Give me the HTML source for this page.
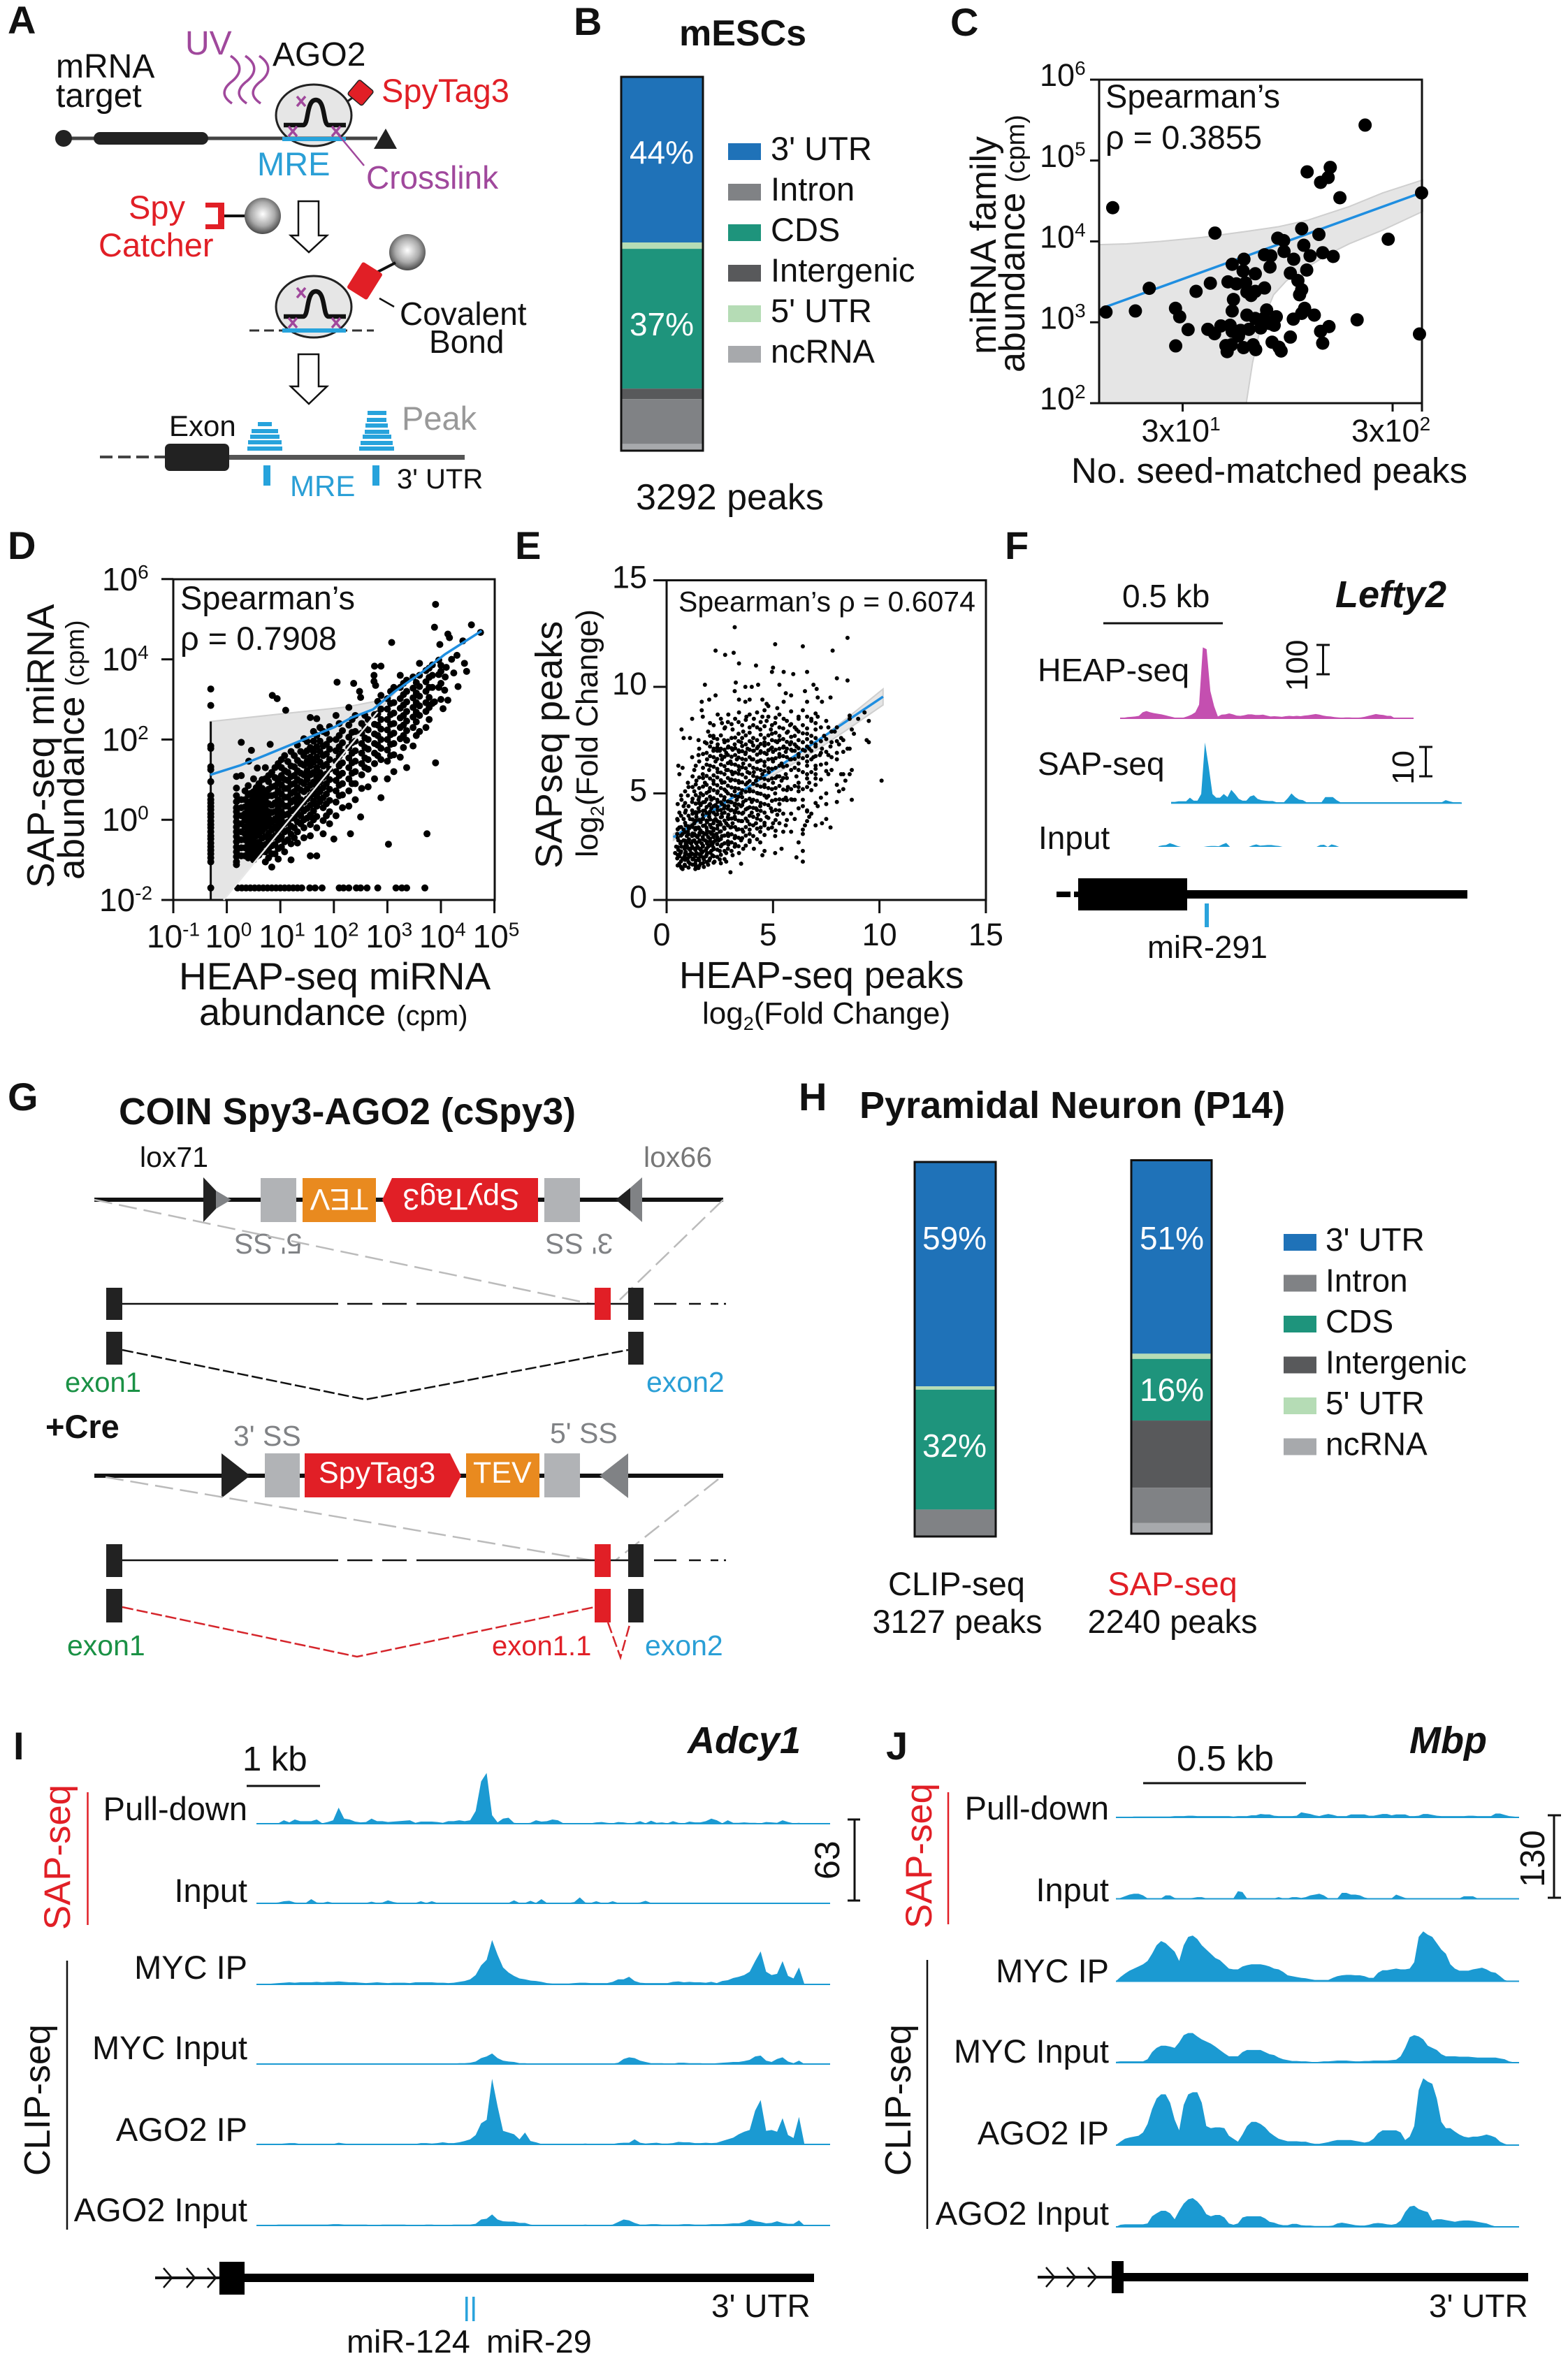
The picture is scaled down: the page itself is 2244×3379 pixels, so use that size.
<!DOCTYPE html>
<html lang="en">
<head>
<meta charset="utf-8">
<title>SAP-seq figure</title>
<style>
html,body{margin:0;padding:0;background:#fff}
svg{display:block}
text{font-family:"Liberation Sans",sans-serif;fill:#111}
.b{font-weight:700}
.pu{fill:#a0489c}.re{fill:#e11f26}.bl{fill:#2a9fd6}.gy{fill:#808285}.gn{fill:#1a9145}.wh{fill:#fff}
</style>
</head>
<body>
<svg id="fig" width="2244" height="3379" viewBox="0 0 2244 3379">
<defs>
<radialGradient id="sph" cx="50%" cy="45%" r="60%"><stop offset="0" stop-color="#fff"/><stop offset=".55" stop-color="#aaa"/><stop offset="1" stop-color="#333"/></radialGradient>
</defs>
<rect width="2244" height="3379" fill="#fff"/>

<!-- PANEL A -->
<g id="panelA">
<text class="b" x="11" y="48" font-size="56">A</text>
<text x="80" y="111" font-size="48">mRNA</text>
<text x="80" y="153" font-size="48">target</text>
<text class="pu" x="265" y="78" font-size="48">UV</text>
<text x="390" y="94" font-size="48">AGO2</text>
<g fill="none" stroke="#a0489c" stroke-width="3.5">
<path d="M330 80C348 92 346 106 330 118C316 130 320 140 332 148"/>
<path d="M351 80C369 92 367 106 351 118C337 130 341 140 353 148"/>
<path d="M371 80C389 92 387 106 371 118C357 130 361 140 373 148"/>
</g>
<ellipse cx="449" cy="165" rx="54" ry="44" fill="#e6e6e6" stroke="#222" stroke-width="3"/>
<line x1="85" y1="198" x2="540" y2="198" stroke="#444" stroke-width="5"/>
<ellipse cx="91" cy="198" rx="12" ry="12" fill="#222"/>
<rect x="134" y="189" width="164" height="18" rx="9" fill="#222"/>
<polygon points="535,213 568,213 552,184" fill="#222"/>
<rect x="404" y="196" width="91" height="6" fill="#27a3dc"/>
<path d="M406 179H434C442 179 438 143 452 143C466 143 462 179 470 179H495" fill="none" stroke="#111" stroke-width="6.5"/>
<path d="M425 138l12 14M437 138l-12 14M413 181l12 14M425 181l-12 14M475 181l12 14M487 181l-12 14" stroke="#a0489c" stroke-width="3.5"/>
<line x1="481" y1="189" x2="521" y2="237" stroke="#a0489c" stroke-width="2.5"/>
<line x1="496" y1="146" x2="507" y2="138" stroke="#222" stroke-width="3"/>
<rect x="503" y="119" width="27" height="27" rx="3" transform="rotate(40 516 132)" fill="#e11f26" stroke="#222" stroke-width="1.5"/>
<text class="re" x="546" y="146" font-size="47">SpyTag3</text>
<text class="bl" x="368" y="251" font-size="47">MRE</text>
<text class="pu" x="524" y="270" font-size="46">Crosslink</text>
<text class="re" x="184" y="313" font-size="47">Spy</text>
<text class="re" x="141" y="367" font-size="47">Catcher</text>
<path d="M294 290H321V328H294V321H312V297H294Z" fill="#e11f26"/>
<line x1="321" y1="309" x2="352" y2="309" stroke="#111" stroke-width="4"/>
<circle cx="376" cy="309" r="26" fill="url(#sph)"/>
<path d="M427 288H456V337H468L442 361L416 337H427Z" fill="#fff" stroke="#111" stroke-width="2.5"/>
<circle cx="583" cy="361" r="26" fill="url(#sph)"/>
<line x1="535" y1="392" x2="566" y2="376" stroke="#111" stroke-width="4"/>
<ellipse cx="449" cy="439" rx="54" ry="44" fill="#e6e6e6" stroke="#222" stroke-width="3"/>
<path d="M406 453H434C442 453 438 417 452 417C466 417 462 453 470 453H495" fill="none" stroke="#111" stroke-width="6.5"/>
<path d="M425 412l12 14M437 412l-12 14M413 455l12 14M425 455l-12 14M475 455l12 14M487 455l-12 14" stroke="#a0489c" stroke-width="3.5"/>
<line x1="357" y1="473" x2="535" y2="473" stroke="#333" stroke-width="3" stroke-dasharray="14 7"/>
<rect x="404" y="470" width="91" height="6" fill="#27a3dc"/>
<rect x="505" y="380" width="34" height="44" rx="3" transform="rotate(32 522 402)" fill="#e11f26"/>
<line x1="543" y1="427" x2="564" y2="439" stroke="#111" stroke-width="2.5"/>
<text x="572" y="465" font-size="46">Covalent</text>
<text x="614" y="505" font-size="46">Bond</text>
<path d="M427 507H456V553H468L442 578L416 553H427Z" fill="#fff" stroke="#111" stroke-width="2.5"/>
<text x="242" y="624" font-size="42">Exon</text>
<text style="fill:#999" x="575" y="615" font-size="47">Peak</text>
<g fill="#27a3dc">
<rect x="369" y="604" width="20" height="6"/><rect x="360" y="614" width="38" height="6"/><rect x="358" y="622" width="42" height="6"/><rect x="355" y="630" width="48" height="6"/><rect x="354" y="639" width="50" height="6"/>
</g>
<g fill="#27a3dc">
<rect x="526" y="588" width="27" height="6"/><rect x="525" y="598" width="28" height="6"/><rect x="523" y="606" width="32" height="6"/><rect x="522" y="615" width="35" height="6"/><rect x="519" y="622" width="41" height="6"/><rect x="516" y="631" width="46" height="6"/><rect x="514" y="639" width="50" height="6"/>
</g>
<line x1="143" y1="654" x2="236" y2="654" stroke="#444" stroke-width="4" stroke-dasharray="18 8"/>
<rect x="328" y="651" width="337" height="7" fill="#555"/>
<rect x="236" y="635" width="92" height="39" rx="7" fill="#222"/>
<rect x="377" y="666" width="10" height="29" fill="#27a3dc"/>
<rect x="533" y="666" width="10" height="29" fill="#27a3dc"/>
<text class="bl" x="415" y="710" font-size="42">MRE</text>
<text x="568" y="699" font-size="40">3' UTR</text>
</g>

<!-- PANEL B -->
<g id="panelB">
<text class="b" x="821" y="50" font-size="56">B</text>
<text class="b" x="972" y="65" font-size="52">mESCs</text>
<g id="barB"></g>
<text class="wh" x="947" y="234" font-size="46" text-anchor="middle">44%</text>
<text class="wh" x="947" y="480" font-size="46" text-anchor="middle">37%</text>
<g id="legB"></g>
<text x="910" y="729" font-size="52">3292 peaks</text>
</g>

<!-- PANEL C -->
<g id="panelC">
<text class="b" x="1360" y="51" font-size="56">C</text>
<g id="plotC"></g>
<text x="1582" y="154" font-size="47">Spearman’s</text>
<text x="1582" y="213" font-size="47">ρ = 0.3855</text>
<text x="1533" y="691" font-size="51">No. seed-matched peaks</text>
<text transform="translate(1425 507) rotate(-90)" font-size="52">miRNA family</text>
<text transform="translate(1466 533) rotate(-90)" font-size="52">abundance <tspan font-size="38">(cpm)</tspan></text>
</g>

<!-- PANEL D -->
<g id="panelD">
<text class="b" x="11" y="800" font-size="56">D</text>
<g id="plotD"></g>
<text x="258" y="872" font-size="47">Spearman’s</text>
<text x="258" y="930" font-size="47">ρ = 0.7908</text>
<text x="256" y="1416" font-size="55">HEAP-seq miRNA</text>
<text x="285" y="1467" font-size="54">abundance <tspan font-size="40">(cpm)</tspan></text>
<text transform="translate(77 1271) rotate(-90)" font-size="55">SAP-seq miRNA</text>
<text transform="translate(120 1259) rotate(-90)" font-size="53">abundance <tspan font-size="37">(cpm)</tspan></text>
</g>

<!-- PANEL E -->
<g id="panelE">
<text class="b" x="737" y="800" font-size="56">E</text>
<g id="plotE"></g>
<text x="971" y="875" font-size="41">Spearman’s ρ = 0.6074</text>
<text x="972" y="1414" font-size="53.5">HEAP-seq peaks</text>
<text x="1005" y="1465" font-size="44">log<tspan font-size="27" dy="9">2</tspan><tspan dy="-9">(Fold Change)</tspan></text>
<text transform="translate(804 1243) rotate(-90)" font-size="54">SAPseq peaks</text>
<text transform="translate(855 1227) rotate(-90)" font-size="44">log<tspan font-size="27" dy="9">2</tspan><tspan dy="-9">(Fold Change)</tspan></text>
</g>

<!-- PANEL F -->
<g id="panelF">
<text class="b" x="1438" y="800" font-size="56">F</text>
<text x="1606" y="869" font-size="46">0.5 kb</text>
<line x1="1579" y1="892" x2="1750" y2="892" stroke="#111" stroke-width="3"/>
<text class="b" font-style="italic" x="1911" y="869" font-size="54">Lefty2</text>
<text x="1485" y="975" font-size="46.5">HEAP-seq</text>
<text x="1485" y="1109" font-size="46">SAP-seq</text>
<text x="1486" y="1215" font-size="46">Input</text>
<g id="tracksF"></g>
<text transform="translate(1871 989) rotate(-90)" font-size="44">100</text>
<path d="M1884 923H1903M1893.5 923V965M1884 965H1903" fill="none" stroke="#111" stroke-width="3"/>
<text transform="translate(2023 1123) rotate(-90)" font-size="44">10</text>
<path d="M2031 1069H2050M2040.5 1069V1111M2031 1111H2050" fill="none" stroke="#111" stroke-width="3"/>
<rect x="1699" y="1274" width="401" height="12" fill="#000"/>
<rect x="1543" y="1257" width="156" height="46" fill="#000"/>
<rect x="1512" y="1276" width="20" height="8" fill="#000"/>
<rect x="1537" y="1276" width="6" height="8" fill="#000"/>
<rect x="1724" y="1293" width="6" height="34" fill="#2aa3dc"/>
<text x="1642" y="1371" font-size="45.5">miR-291</text>
</g>

<!-- PANEL G -->
<g id="panelG">
<text class="b" x="11" y="1589" font-size="56">G</text>
<text class="b" x="170" y="1609" font-size="53.5">COIN Spy3-AGO2 (cSpy3)</text>
<text x="200" y="1670" font-size="41">lox71</text>
<text style="fill:#777" x="921" y="1670" font-size="41">lox66</text>
<line x1="135" y1="1717" x2="1035" y2="1717" stroke="#111" stroke-width="6"/>
<polygon points="291,1685 309,1704 309,1730 291,1749" fill="#222"/>
<polygon points="309,1704 331,1717 309,1730" fill="#808285"/>
<polygon points="881,1717 902,1700 902,1734" fill="#222"/>
<polygon points="902,1700 919,1685 919,1749 902,1734" fill="#808285"/>
<rect x="373" y="1686" width="51" height="63" fill="#b1b3b6"/>
<rect x="433" y="1686" width="105" height="63" fill="#e98a1f"/>
<polygon points="547,1717 561,1686 770,1686 770,1749 561,1749" fill="#e11f26"/>
<rect x="779" y="1686" width="51" height="63" fill="#b1b3b6"/>
<text class="wh" transform="rotate(180 485.5 1717)" x="485.5" y="1732" font-size="43" text-anchor="middle">TEV</text>
<text class="wh" transform="rotate(180 660 1717)" x="660" y="1732" font-size="43" text-anchor="middle">SpyTag3</text>
<text class="gy" transform="rotate(180 384 1780)" x="384" y="1794" font-size="41" text-anchor="middle">5' SS</text>
<text class="gy" transform="rotate(180 829 1780)" x="829" y="1794" font-size="41" text-anchor="middle">3' SS</text>
<path d="M135 1717L846 1866M1035 1717L881 1866" fill="none" stroke="#bbb" stroke-width="2.5" stroke-dasharray="26 10"/>
<path d="M175 1866H484M497 1866H533M547 1866H582M596 1866H851M874 1866H921M936 1866H968M986 1866H1003M1017 1866H1028M1036 1866H1039" fill="none" stroke="#111" stroke-width="2.5"/>
<rect x="152" y="1843" width="23" height="46" fill="#222"/>
<rect x="851" y="1843" width="23" height="46" fill="#e11f26"/>
<rect x="899" y="1843" width="22" height="46" fill="#222"/>
<rect x="152" y="1906" width="23" height="47" fill="#222"/>
<rect x="899" y="1906" width="22" height="47" fill="#222"/>
<path d="M175 1932L523 2003L899 1932" fill="none" stroke="#111" stroke-width="2.5" stroke-dasharray="16 5"/>
<text class="gn" x="93" y="1992" font-size="40">exon1</text>
<text class="bl" x="925" y="1992" font-size="41">exon2</text>
<text class="b" x="65" y="2058" font-size="47">+Cre</text>
<text class="gy" x="334" y="2069" font-size="41">3' SS</text>
<text class="gy" x="787" y="2065" font-size="41">5' SS</text>
<line x1="135" y1="2112" x2="1035" y2="2112" stroke="#111" stroke-width="6"/>
<polygon points="317,2080 317,2144 358,2112" fill="#222"/>
<polygon points="899,2080 899,2144 858,2112" fill="#808285"/>
<rect x="379" y="2080" width="50" height="63" fill="#b1b3b6"/>
<polygon points="436,2080 644,2080 660,2112 644,2143 436,2143" fill="#e11f26"/>
<rect x="667" y="2080" width="105" height="63" fill="#e98a1f"/>
<rect x="779" y="2080" width="51" height="63" fill="#b1b3b6"/>
<text class="wh" x="456" y="2122" font-size="43">SpyTag3</text>
<text class="wh" x="677" y="2122" font-size="43">TEV</text>
<path d="M151 2114L846 2233M1028 2117L881 2233" fill="none" stroke="#bbb" stroke-width="2.5" stroke-dasharray="26 10"/>
<path d="M175 2233H484M497 2233H533M547 2233H582M596 2233H851M874 2233H921M936 2233H968M986 2233H1003M1017 2233H1028M1036 2233H1039" fill="none" stroke="#111" stroke-width="2.5"/>
<rect x="152" y="2210" width="23" height="47" fill="#222"/>
<rect x="851" y="2210" width="23" height="47" fill="#e11f26"/>
<rect x="899" y="2210" width="22" height="47" fill="#222"/>
<rect x="152" y="2274" width="23" height="48" fill="#222"/>
<rect x="851" y="2274" width="23" height="48" fill="#e11f26"/>
<rect x="899" y="2274" width="22" height="48" fill="#222"/>
<path d="M175 2300L511 2371L851 2300M870 2322L888 2372L902 2322" fill="none" stroke="#d5252b" stroke-width="2.5" stroke-dasharray="16 5"/>
<text class="gn" x="96" y="2369" font-size="41">exon1</text>
<text class="re" x="704" y="2369" font-size="40">exon1.1</text>
<text class="bl" x="923" y="2369" font-size="41">exon2</text>
</g>

<!-- PANEL H -->
<g id="panelH">
<text class="b" x="1143" y="1589" font-size="56">H</text>
<text class="b" x="1230" y="1600" font-size="54">Pyramidal Neuron (P14)</text>
<g id="barH1"></g>
<g id="barH2"></g>
<text class="wh" x="1366" y="1788" font-size="46" text-anchor="middle">59%</text>
<text class="wh" x="1366" y="2085" font-size="46" text-anchor="middle">32%</text>
<text class="wh" x="1677" y="1788" font-size="46" text-anchor="middle">51%</text>
<text class="wh" x="1677" y="2005" font-size="46" text-anchor="middle">16%</text>
<g id="legH"></g>
<text x="1369" y="2283" font-size="47" text-anchor="middle">CLIP-seq</text>
<text x="1370" y="2337" font-size="47" text-anchor="middle">3127 peaks</text>
<text class="re" x="1678" y="2283" font-size="47" text-anchor="middle">SAP-seq</text>
<text x="1678" y="2337" font-size="47" text-anchor="middle">2240 peaks</text>
</g>

<!-- PANEL I -->
<g id="panelI">
<text class="b" x="19" y="2518" font-size="56">I</text>
<text x="347" y="2534" font-size="49">1 kb</text>
<line x1="353" y1="2556" x2="458" y2="2556" stroke="#111" stroke-width="3"/>
<text class="b" font-style="italic" x="984" y="2509" font-size="54">Adcy1</text>
<text x="354" y="2605" font-size="47" text-anchor="end">Pull-down</text>
<text x="354" y="2722" font-size="47" text-anchor="end">Input</text>
<text x="354" y="2832" font-size="47" text-anchor="end">MYC IP</text>
<text x="354" y="2947" font-size="47" text-anchor="end">MYC Input</text>
<text x="354" y="3064" font-size="47" text-anchor="end">AGO2 IP</text>
<text x="354" y="3179" font-size="47" text-anchor="end">AGO2 Input</text>
<text class="re" transform="translate(100 2762) rotate(-90)" font-size="52.7">SAP-seq</text>
<line x1="125.5" y1="2565" x2="125.5" y2="2755" stroke="#e11f26" stroke-width="2.5"/>
<text transform="translate(71 3114) rotate(-90)" font-size="52">CLIP-seq</text>
<line x1="96" y1="2806" x2="96" y2="3191" stroke="#111" stroke-width="2.5"/>
<text transform="translate(1201 2690) rotate(-90)" font-size="50">63</text>
<path d="M1213 2604H1231M1223 2604V2720M1213 2720H1231" fill="none" stroke="#111" stroke-width="3"/>
<g id="tracksI"></g>
<line x1="222" y1="3260" x2="314" y2="3260" stroke="#111" stroke-width="4"/>
<path d="M234 3246L246 3260L234 3274M267 3246L279 3260L267 3274M297 3246L309 3260L297 3274" fill="none" stroke="#111" stroke-width="2.5"/>
<rect x="314" y="3237" width="36" height="47" fill="#000"/>
<rect x="350" y="3254" width="815" height="12" fill="#000"/>
<rect x="666" y="3287" width="3.5" height="35" fill="#2aa3dc"/>
<rect x="676" y="3287" width="3.5" height="35" fill="#2aa3dc"/>
<text x="1018" y="3316" font-size="46">3' UTR</text>
<text x="496" y="3367" font-size="46.8">miR-124</text>
<text x="696" y="3367" font-size="46.8">miR-29</text>
</g>

<!-- PANEL J -->
<g id="panelJ">
<text class="b" x="1268" y="2518" font-size="56">J</text>
<text x="1684" y="2534" font-size="51">0.5 kb</text>
<line x1="1636" y1="2552" x2="1869" y2="2552" stroke="#111" stroke-width="3"/>
<text class="b" font-style="italic" x="2017" y="2509" font-size="54">Mbp</text>
<text x="1587" y="2604" font-size="47" text-anchor="end">Pull-down</text>
<text x="1587" y="2721" font-size="47" text-anchor="end">Input</text>
<text x="1587" y="2837" font-size="47" text-anchor="end">MYC IP</text>
<text x="1587" y="2952" font-size="47" text-anchor="end">MYC Input</text>
<text x="1587" y="3069" font-size="47" text-anchor="end">AGO2 IP</text>
<text x="1587" y="3184" font-size="47" text-anchor="end">AGO2 Input</text>
<text class="re" transform="translate(1333 2760) rotate(-90)" font-size="52.7">SAP-seq</text>
<line x1="1357" y1="2565" x2="1357" y2="2754" stroke="#e11f26" stroke-width="2.5"/>
<text transform="translate(1303 3114) rotate(-90)" font-size="52">CLIP-seq</text>
<line x1="1327" y1="2805" x2="1327" y2="3190" stroke="#111" stroke-width="2.5"/>
<text transform="translate(2210 2701) rotate(-90)" font-size="49">130</text>
<path d="M2215 2598H2234M2224 2598V2716M2215 2716H2234" fill="none" stroke="#111" stroke-width="3"/>
<g id="tracksJ"></g>
<line x1="1485" y1="3259" x2="1591" y2="3259" stroke="#111" stroke-width="4"/>
<path d="M1497 3245L1509 3259L1497 3273M1527 3245L1539 3259L1527 3273M1557 3245L1569 3259L1557 3273" fill="none" stroke="#111" stroke-width="2.5"/>
<rect x="1591" y="3236" width="17" height="46" fill="#000"/>
<rect x="1608" y="3253" width="579" height="12" fill="#000"/>
<text x="2045" y="3316" font-size="46">3' UTR</text>
</g>
</svg>

<script>
/* ---------- stacked bar data ---------- */
const stackCategories=["3' UTR","5' UTR","CDS","Intergenic","Intron","ncRNA"];
const mescShares=[44.3,1.7,37.4,2.8,12,1.8];
const clipShares=[59.9,0.9,32,0,7.2,0];
const sapShares=[51.8,1.4,16.5,18,9.4,2.9];
const legendLabels=["3' UTR","Intron","CDS","Intergenic","5' UTR","ncRNA"];

/* ---------- panel C: log10(peaks), log10(cpm) ---------- */
const cXTicks=[1.477,2.477];
const cXTickLabels=["3x10","3x10"];
const cXTickExps=["1","2"];
const cYTicks=[2,3,4,5,6];
const cTrendX=[1.11,2.59];
const cTrendY=[3.19,4.58];
const cRibbonUpperX=[1.08,1.21,1.37,1.57,1.77,1.93,2.07,2.27,2.43,2.62];
const cRibbonUpperY=[3.96,3.97,4,4.05,4.12,4.18,4.26,4.43,4.6,4.76];
const cRibbonLowerX=[2.62,2.43,2.27,2.17,2.07,1.97,1.91,1.85,1.81,1.78,1.08];
const cRibbonLowerY=[4.37,4.14,3.97,3.84,3.68,3.51,3.34,2.96,2.5,2,2];
const cPoints=[[2.346,5.438],[2.07,4.86],[2.18,4.915],[2.17,4.79],[2.134,4.73],[2.226,4.54],[2.615,4.6],[1.144,4.417],[1.631,4.103],[2.044,4.157],[2.126,4.086],[1.93,4.04],[1.958,4.01],[2.456,4.027],[2.054,3.952],[1.96,3.876],[1.867,3.835],[1.897,3.822],[2.006,3.78],[2.084,3.822],[2.144,3.86],[2.194,3.814],[1.769,3.78],[1.713,3.717],[1.893,3.684],[1.765,3.634],[1.823,3.6],[1.99,3.608],[2.068,3.646],[1.609,3.483],[1.693,3.5],[1.733,3.475],[1.777,3.487],[2.026,3.516],[1.867,3.424],[1.318,3.42],[1.541,3.382],[1.783,3.374],[1.823,3.382],[1.803,3.332],[2.044,3.403],[2.034,3.34],[1.719,3.282],[1.112,3.127],[1.252,3.14],[1.443,3.173],[1.463,3.068],[1.713,3.14],[2.058,3.173],[2.104,3.089],[2.004,3.039],[2.044,3.11],[2.308,3.03],[1.783,3.089],[1.823,3.047],[1.877,3.152],[1.923,3.068],[1.863,3.047],[1.893,2.984],[1.913,2.963],[1.849,2.93],[1.503,2.909],[1.597,2.913],[1.659,2.955],[1.703,2.963],[1.629,2.859],[1.713,2.888],[1.753,2.9],[1.793,2.913],[2.174,2.947],[2.134,2.888],[2.605,2.855],[1.99,2.817],[1.743,2.83],[2.144,2.742],[1.444,2.708],[1.903,2.754],[1.683,2.712],[1.709,2.721],[1.767,2.687],[1.813,2.721],[1.825,2.662],[1.689,2.637],[1.936,2.691],[1.946,2.645]];

/* ---------- panel D: log10(HEAP cpm), log10(SAP cpm) ---------- */
const dXTicks=[-1,0,1,2,3,4,5];
const dYTicks=[-2,0,2,4,6];
const dTrendX=[-0.31,0.26,0.76,1.38,2.01,2.32,2.73,3.13,3.63,4.07,4.76];
const dTrendY=[1.12,1.36,1.63,1.97,2.31,2.54,2.75,3.19,3.66,4.12,4.71];
const dRibbonX=[-0.31,1.38,2.23,2.88,3.19,2.82,-0.06,-0.31];
const dRibbonY=[2.45,2.69,2.81,2.98,3.24,2.69,-2,-2];
const dPoints=[[-.3,3.26],[-.3,2.85],[-.3,1.84],[-.3,1.78],[-.3,1.32],[-.3,1.25],[-.3,.95],[-.3,.6],[-.3,.5],[-.3,.42],[-.3,.33],[-.3,.25],[-.3,.15],[-.3,.07],[-.3,-.03],[-.3,-.12],[-.3,-.2],[-.3,-.3],[-.3,-.4],[-.3,-.48],[-.3,-.58],[-.3,-.67],[-.3,-.76],[-.3,-.85],[-.3,-.95],[-.3,-1.05],[-.3,-1.7],
[.18,1.08],[.18,.79],[.18,.6],[.18,.45],[.18,.3],[.18,.2],[.18,.08],[.18,-.05],[.18,-.18],[.18,-.3],[.18,-.42],[.18,-.55],[.18,-.68],[.18,-.8],[.18,-.92],[.18,-1.05],[.18,-1.12],[.27,.5],[.27,.3],[.27,.1],[.27,-.1],[.27,-.3],[.27,-.5],[.27,-.7],[.27,-.9],[.27,1.1],[.27,1.93],[.46,1.73],[.41,1.46],[.57,1.29],[.81,1.88],[.85,3.1],[.94,3.02],[1.1,2.73],
[.2,-1.7],[.28,-1.7],[.36,-1.7],[.44,-1.7],[.52,-1.7],[.6,-1.7],[.68,-1.7],[.76,-1.7],[.84,-1.7],[.92,-1.7],[1,-1.7],[1.08,-1.7],[1.16,-1.7],[1.24,-1.7],[1.32,-1.7],[1.4,-1.7],[1.55,-1.7],[1.65,-1.7],[1.78,-1.7],[2.1,-1.7],[2.18,-1.7],[2.28,-1.7],[2.42,-1.7],[2.5,-1.7],[2.62,-1.7],[2.82,-1.7],[3.16,-1.7],[3.27,-1.7],[3.36,-1.7],[3.7,-1.7],
[.4,-.95],[.4,-.78],[.4,-.6],[.4,-.44],[.4,-.26],[.4,-.1],[.4,.08],[.4,.22],[.4,.4],[.4,.62],[.4,.85],[.5,-1],[.5,-.82],[.5,-.66],[.5,-.48],[.5,-.3],[.5,-.14],[.5,.02],[.5,.2],[.5,.36],[.5,.55],[.5,.7],[.5,1.02],[.6,-.88],[.6,-.72],[.6,-.56],[.6,-.36],[.6,-.18],[.6,0],[.6,.16],[.6,.3],[.6,.5],[.6,.66],[.6,.9],[.72,-1.05],[.72,-.8],[.72,-.62],[.72,-.42],[.72,-.2],[.72,-.05],[.72,.12],[.72,.3],[.72,.48],[.72,.7],[.72,1.02],[.72,1.3],[.84,-1.18],[.84,-.85],[.84,-.65],[.84,-.46],[.84,-.25],[.84,-.05],[.84,.18],[.84,.36],[.84,.6],[.84,.82],[.84,1.18],[.96,-.98],[.96,-.72],[.96,-.5],[.96,-.28],[.96,-.08],[.96,.1],[.96,.3],[.96,.5],[.96,.72],[.96,.94],[.96,1.4],[.96,1.02],
[1.08,-.8],[1.08,-.55],[1.08,-.3],[1.08,-.1],[1.08,.12],[1.08,.34],[1.08,.56],[1.08,.78],[1.08,1],[1.08,1.22],[1.08,1.6],[1.2,-1],[1.2,-.6],[1.2,-.36],[1.2,-.16],[1.2,.04],[1.2,.22],[1.2,.44],[1.2,.66],[1.2,.88],[1.2,1.08],[1.2,1.34],[1.2,1.7],[1.32,-.58],[1.32,-.3],[1.32,-.05],[1.32,.16],[1.32,.38],[1.32,.6],[1.32,.8],[1.32,1],[1.32,1.22],[1.32,1.48],[1.32,1.86],[1.44,-.45],[1.44,-.2],[1.44,0],[1.44,.22],[1.44,.44],[1.44,.7],[1.44,.9],[1.44,1.12],[1.44,1.36],[1.44,1.6],[1.44,2.02],[1.56,-.9],[1.56,-.4],[1.56,-.12],[1.56,.12],[1.56,.36],[1.56,.6],[1.56,.86],[1.56,1.12],[1.56,1.34],[1.56,1.56],[1.56,1.8],[1.56,2.55],[1.68,-.9],[1.68,-.2],[1.68,.08],[1.68,.34],[1.68,.58],[1.68,.82],[1.68,1.06],[1.68,1.3],[1.68,1.56],[1.68,1.82],[1.68,2.1],[1.68,2.52],
[1.8,-.35],[1.8,-.02],[1.8,.3],[1.8,.55],[1.8,.8],[1.8,1.06],[1.8,1.34],[1.8,1.6],[1.8,1.84],[1.8,2.2],[1.92,-.1],[1.92,.2],[1.92,.48],[1.92,.76],[1.92,1],[1.92,1.26],[1.92,1.5],[1.92,1.76],[1.92,2],[1.92,2.32],[2,-.48],[2.06,3.43],[2.04,.1],[2.04,.44],[2.04,.72],[2.04,.98],[2.04,1.2],[2.04,1.46],[2.04,1.72],[2.04,2],[2.04,2.6],[2.16,.3],[2.16,.62],[2.16,.9],[2.16,1.16],[2.16,1.42],[2.16,1.68],[2.16,1.92],[2.16,2.22],[2.31,-.35],[2.28,.34],[2.28,.72],[2.28,1.02],[2.28,1.3],[2.28,1.54],[2.28,1.8],[2.28,2.06],[2.28,2.36],[2.28,2.8],[2.37,3.4],[2.4,.5],[2.4,.9],[2.4,1.2],[2.4,1.46],[2.4,1.72],[2.4,1.96],[2.4,2.2],[2.4,2.6],[2.48,3.2],[2.5,3.05],[2.5,.07],[2.52,.78],[2.52,1.12],[2.52,1.4],[2.52,1.66],[2.52,1.9],[2.52,2.16],[2.52,2.4],[2.64,.82],[2.64,1.26],[2.64,1.5],[2.64,1.76],[2.64,2],[2.64,2.24],[2.64,2.5],[2.75,3.45],[2.75,3.6],[2.76,3.83],[2.78,3.35],[2.88,3.83],[2.76,1.02],[2.76,1.4],[2.76,1.66],[2.76,1.9],[2.76,2.14],[2.76,2.38],[2.76,2.62],[2.88,.55],[2.88,1.5],[2.88,1.78],[2.88,2],[2.88,2.26],[2.88,2.5],[2.88,2.76],[2.88,3.1],
[3,1.02],[3,1.46],[3,1.74],[3,2],[3,2.24],[3,2.5],[3,2.76],[3,3.02],[3.02,-.61],[3.08,4.42],[3.12,1.2],[3.12,1.62],[3.12,1.9],[3.12,2.16],[3.12,2.4],[3.12,2.66],[3.12,2.92],[3.12,3.3],[3.24,1.56],[3.24,2.02],[3.24,2.3],[3.24,2.54],[3.24,2.78],[3.24,3.02],[3.24,3.3],[3.24,3.6],[3.36,1.3],[3.36,1.98],[3.36,2.22],[3.36,2.46],[3.36,2.7],[3.36,2.94],[3.36,3.2],[3.36,3.48],[3.48,1.84],[3.48,2.3],[3.48,2.56],[3.48,2.8],[3.48,3.04],[3.48,3.28],[3.48,3.56],[3.6,2.2],[3.6,2.6],[3.6,2.84],[3.6,3.08],[3.6,3.32],[3.6,3.6],[3.6,3.9],[3.72,2.3],[3.72,2.7],[3.72,2.92],[3.72,3.2],[3.72,3.44],[3.72,3.72],[3.74,-.35],[3.9,1.42],[3.84,2.9],[3.84,3.3],[3.84,3.6],[3.84,3.86],[3.88,2.94],[3.88,4.8],[3.9,5.37],[3.98,4.37],[3.96,3.3],[3.96,3.62],[3.96,3.98],[4.04,2.77],[4.07,3.23],[4.08,3.56],[4.1,3.8],[4.13,2.98],[4.13,4.63],[4.16,4.54],[4.2,4],[4.24,3.66],[4.3,4.1],[4.32,3.32],[4.41,4.46],[4.44,3.9],[4.48,3.7],[4.57,4.86],[4.74,4.67]];
const dDenseColumns=[[.34,[-.9,-.7,-.5,-.35,-.18,0,.15,.32,.5,.72]],[.45,[-.88,-.7,-.52,-.36,-.2,-.05,.12,.3,.46,.66]],[.55,[-.92,-.75,-.58,-.4,-.22,-.06,.1,.26,.44,.62,.8]],[.66,[-.8,-.64,-.46,-.28,-.1,.06,.22,.4,.58,.78,1]],[.78,[-.95,-.72,-.54,-.34,-.14,.04,.2,.4,.6,.76,.95,1.1]],[.9,[-.85,-.62,-.4,-.18,.02,.2,.42,.62,.84,1.05,1.3]],[1.02,[-.68,-.42,-.2,0,.2,.42,.64,.86,1.1,1.3,1.5]],[1.14,[-.5,-.26,-.06,.14,.34,.56,.78,.98,1.18,1.45]],[1.26,[-.45,-.2,.04,.26,.5,.7,.9,1.1,1.32,1.6]],[1.38,[-.1,.1,.3,.5,.74,.95,1.16,1.4,1.7]],[1.5,[.04,.28,.52,.76,1,1.22,1.46,1.72,1.95]],[1.62,[0,.22,.46,.7,.94,1.18,1.44,1.7,1.96,2.2]],[1.74,[.45,.7,.94,1.18,1.44,1.7,1.96,2.3]],[1.86,[.1,.4,.64,.9,1.14,1.38,1.64,1.88,2.16]],[2.1,[.6,.86,1.1,1.34,1.58,1.82,2.1,2.4]],[2.34,[.9,1.16,1.42,1.66,1.92,2.18,2.5]],[2.58,[1.3,1.54,1.8,2.04,2.3,2.6]],[2.82,[1.6,1.86,2.1,2.36,2.64,2.95]],[3.06,[1.6,1.88,2.12,2.38,2.62,2.9,3.2]],[3.3,[1.8,2.1,2.36,2.6,2.86,3.12,3.4]],[3.54,[2.1,2.44,2.68,2.92,3.16,3.42]],[3.78,[2.5,2.8,3.05,3.3,3.55,3.78]],[4,[3,3.4,3.7,3.85]]];

/* ---------- panel E: log2 fold change ---------- */
const eXTicks=[0,5,10,15];
const eYTicks=[0,5,10,15];
const eTrendX=[0.32,10.17];
const eTrendY=[2.94,9.54];
const eRibbonX=[0.32,5,7,8.5,10.17,10.17,8.5,7,5,0.32];
const eRibbonY=[3.1,6.05,7.4,8.55,9.9,9.15,8,7,5.85,2.8];
const ePoints=[[3.2,12.8],[8.5,12.3],[5.1,12],[6.4,11.9],[2.3,11.7],[2.75,11.5],[3.15,11.6],[7.8,11.7],[3.4,11.1],[4.2,11],[5,10.9],[4.95,10.7],[5.5,10.7],[5.95,10.6],[6.6,10.7],[8,10.4],[8.5,10.3],[3.25,10.2],[5.3,10.1],[1.8,10.1],[3.7,10],[4,10],[4.3,10.1],[6.9,10.1],[7.05,9.9],[3.2,9.8],[5.6,9.7],[6.5,9.8],[5.85,9.6],[2.3,9.6],[1.65,9.3],[2,9.4],[7.7,9.5],[6.6,9.3],[7.1,9.5],[7.3,9.3],[3.4,9.4],[3.7,9.3],[3.9,9.4],[4.5,9.4],[4.7,9.2],[5.2,9],[5.5,9.3],[1.65,8.9],[1.7,8.6],[1.2,8.5],[2.4,8.7],[2.6,8.3],[2.9,8.7],[2.75,8.1],[3.4,8.8],[3.75,8.6],[4.1,8.5],[4.5,8.6],[4.7,8.4],[5.1,8.3],[5.5,8.5],[5.8,8.2],[6.2,8.6],[6.4,8.9],[6.8,8.5],[7.1,8.6],[7.6,8.1],[8.6,8.5],[9,8.5],[9.5,8.4],[8.7,8],[9.3,8.8],[.7,8],[1.95,7.9],[2.2,7.7],[3.1,8],[3.6,7.9],[3.9,8.1],[4.4,8],[4.9,8],[5.3,7.7],[5.7,7.9],[6.1,8],[6.6,7.8],[7,8],[7.4,7.7],[7.9,7.9],[8.2,7.6],[8.8,7.8],[9.4,7.5],[9.5,7.4],
[.8,7.6],[1.1,7.6],[1.5,7.5],[1.8,7.4],[2.1,7.4],[2.4,7.3],[2.7,7.5],[2.9,7.2],[3.2,7.3],[3.5,7.4],[3.8,7.1],[4,7.4],[4.3,7.2],[4.6,7.4],[4.9,7.1],[5.2,7.4],[5.5,7.2],[5.8,7.3],[6.1,7.2],[6.4,7.4],[6.7,7.1],[7,7.3],[7.3,7.1],[7.7,7.2],[8.1,7.3],[8.5,7.1],[2.2,7],[2.5,7],[2.8,6.9],[3.1,7.05],[3.4,6.95],[3.7,6.85],[4.1,7],[4.4,6.9],[4.7,6.85],[5,6.95],[5.3,6.85],[5.6,6.95],[5.9,7],[6.2,6.85],[6.5,7],[6.9,6.7],[7.2,6.8],[7.6,6.8],[8,6.6],[1.2,6.7],[1.5,6.8],[1.9,6.6],[2.3,6.5],[2.6,6.6],[3,6.5],[3.3,6.6],[3.6,6.4],[4,6.6],[4.3,6.5],[4.6,6.3],[5,6.5],[5.4,6.4],[5.8,6.6],[6.2,6.4],[6.6,6.5],[7,6.3],[7.5,6.4],[.55,6.3],[.6,5.9],[.75,6.2],[8.7,6.1],[1.3,6.1],[1.7,5.9],[2,6.1],[2.4,6],[2.8,6.1],[3.1,5.9],[3.4,6.1],[3.8,6],[4.1,6],[4.5,5.9],[4.8,6],[5.2,5.8],[5.6,5.9],[6.1,5.8],[6.6,5.7],[7,5.9],[7.6,5.9],[8.2,5.9],[8.4,5.6],[10.1,5.6],[1,5.5],[1.4,5.6],[1.8,5.5],[2.2,5.6],[2.6,5.5],[3,5.6],[3.4,5.5],[3.8,5.5],[4.2,5.6],[4.6,5.4],[5,5.5],[5.4,5.6],[5.7,5.3],[6.2,5.3],[6.7,5.5],[7,5.4],[8.1,5.1],[8.3,5.2],
[1,4.9],[.7,4.7],[.8,4.4],[1.3,5.1],[1.6,5],[2,5.1],[2.4,5.1],[2.8,5.1],[3.2,5.1],[3.5,5],[3.9,5.1],[4.3,5],[4.7,4.8],[5.1,5],[5.6,4.8],[5.9,4.7],[6.4,4.7],[7.5,4.5],[8.7,4.7],[1.2,4.6],[1.5,4.7],[1.8,4.6],[2.1,4.7],[2.4,4.6],[2.7,4.7],[3,4.6],[3.3,4.7],[3.6,4.6],[4,4.6],[4.4,4.4],[4.9,4.3],[5.3,4.5],[6.6,4.2],[7.1,4.4],[.6,4.1],[.9,4.2],[1.2,4.2],[1.5,4.3],[1.8,4.2],[2.1,4.3],[2.4,4.2],[2.7,4.3],[3,4.2],[3.3,4.3],[3.6,4.1],[4,4.1],[4.3,4],[4.7,3.9],[5.2,4],[6.7,3.9],[.5,3.8],[.8,3.8],[1.1,3.8],[1.4,3.9],[1.7,3.8],[2,3.9],[2.3,3.8],[2.6,3.9],[2.9,3.8],[3.2,3.9],[3.5,3.7],[3.8,3.7],[4.2,3.6],[4.6,3.5],[5,3.6],[5.6,3.5],[6.5,3.5],[7.3,3.6],[7.7,3.4],[.6,3.4],[.9,3.5],[1.2,3.5],[1.5,3.4],[1.8,3.5],[2.1,3.4],[2.4,3.5],[2.7,3.4],[3,3.4],[3.3,3.3],[3.6,3.2],[3.9,3.3],[4.4,3.2],[5.1,3],[6.4,3.1],[.5,3.1],[.75,3.1],[1,3.2],[1.3,3.1],[1.55,3.15],[1.8,3.1],[2.1,3.1],[2.35,3.1],[2.6,3],[2.9,3],[3.2,2.9],[3.5,2.8],[3.9,2.8],[4.4,2.7],[.55,2.8],[.8,2.8],[1.05,2.85],[1.3,2.8],[1.55,2.8],[1.8,2.8],[2.05,2.75],[2.3,2.8],[2.6,2.6],[2.9,2.6],[3.2,2.5],[3.6,2.4],[4.1,2.4],[4.6,2.3],[5.4,2.4],[6.4,2.3],[.45,2.5],[.7,2.5],[.95,2.55],[1.2,2.5],[1.45,2.5],[1.7,2.5],[1.95,2.5],[2.2,2.45],[2.5,2.3],[2.8,2.2],[3.1,2.1],[3.4,2.2],[4.5,2.1],[5.1,2.2],[6.1,2],[6.4,1.8],[.4,2.2],[.65,2.2],[.9,2.25],[1.15,2.2],[1.4,2.2],[1.65,2.2],[1.9,2.2],[2.15,2.1],[2.5,1.9],[2.8,1.8],[3.5,1.7],[.5,1.95],[.75,1.95],[1,1.95],[1.25,1.95],[1.5,1.95],[1.75,1.9],[2,1.85],[2.25,1.8],[.6,1.7],[.85,1.65],[1.1,1.7],[1.35,1.7],[1.6,1.7],[1.95,1.65],[.7,1.5],[.75,1.45],[1.35,1.45],[1.5,1.5],[1.75,1.55],[3,1.3],
[.55,2.35],[.85,2.4],[1.1,2.35],[1.35,2.35],[1.6,2.35],[1.85,2.35],[2.1,2.3],[.6,2.05],[.85,2.05],[1.1,2.05],[1.35,2.05],[1.6,2.05],[1.85,2.05],[.65,2.65],[.9,2.65],[1.15,2.65],[1.4,2.65],[1.65,2.65],[1.9,2.65],[2.15,2.6],[.95,3],[1.2,3],[1.45,2.95],[1.7,2.95],[1.95,2.95],[2.2,2.95],[2.45,2.8],[.8,3.3],[1.05,3.35],[1.35,3.3],[1.6,3.25],[1.9,3.25],[2.2,3.25],[2.5,3.2],[1.3,3.6],[1.6,3.65],[1.9,3.65],[2.2,3.6],[2.5,3.65],[2.8,3.6],[3.1,3.6],[1.4,4.05],[1.7,4],[2,4.05],[2.3,4],[2.6,4.05],[2.9,4],[3.2,4.1],[3.5,4.4],[1.6,4.45],[2,4.45],[2.3,4.45],[2.6,4.5],[2.9,4.4],[3.2,4.45],[3.8,4.3],[4.2,4.3]];
const eDenseColumns=[[.52,[1.62,2.12,2.48,2.92,3.32,3.74,4.5]],[.68,[1.55,1.82,2.28,2.72,3.02,3.42,3.95,4.9]],[.87,[1.6,1.88,2.18,2.52,2.78,3.18,3.62,4.1,4.55,5.1]],[1.03,[1.52,1.78,2.12,2.42,2.72,3.08,3.45,3.95,4.4,5.3]],[1.22,[1.66,1.9,2.16,2.44,2.76,3.12,3.42,3.78,4.05,4.75,5.3,5.8]],[1.37,[1.58,1.84,2.12,2.42,2.7,3.02,3.38,3.72,4.12,4.52,4.92,5.42,6.3]],[1.53,[1.6,1.86,2.15,2.42,2.74,3.06,3.35,3.76,4.15,4.55,4.82,5.25,5.75,6.5,7.1]],[1.71,[1.72,2,2.28,2.55,2.85,3.15,3.48,3.82,4.18,4.58,4.92,5.32,5.72,6.2,6.85]],[1.88,[1.78,2.12,2.42,2.75,3.08,3.38,3.72,4.08,4.36,4.72,5.02,5.4,5.82,6.35,6.9,7.35]],[2.04,[1.95,2.22,2.56,2.88,3.18,3.52,3.78,4.15,4.5,4.85,5.25,5.7,6.3,6.75,7.2,7.7,8.3]],[2.21,[1.75,2.05,2.38,2.72,3.05,3.35,3.72,4.1,4.4,4.78,5.15,5.45,5.85,6.25,6.7,7.1,7.6,8.2]],[2.38,[2.02,2.36,2.62,2.95,3.35,3.7,4.02,4.36,4.7,5.02,5.38,5.75,6.15,6.62,7,7.15,7.55]],[2.55,[1.72,2.12,2.52,2.86,3.22,3.54,3.88,4.22,4.58,4.9,5.25,5.62,5.98,6.35,6.78,7.1,7.72,8.5]],[2.72,[1.92,2.3,2.66,3.02,3.34,3.72,4.1,4.42,4.82,5.18,5.52,5.9,6.28,6.72,7.05,7.4,8.05]],[2.88,[2.4,2.75,3.12,3.5,3.88,4.28,4.62,5,5.36,5.72,6.1,6.42,6.8,7.15,7.48,8.35]],[3.05,[2.3,2.7,3.08,3.42,3.82,4.22,4.58,4.92,5.28,5.65,6.02,6.38,6.72,7.12,7.6,8.25]],[3.22,[2.62,3,3.42,3.8,4.18,4.52,4.88,5.25,5.62,5.98,6.35,6.8,7.12,7.62,8.5]],[3.38,[2.52,2.92,3.32,3.72,4.1,4.48,4.85,5.22,5.58,5.92,6.28,6.68,7.02,7.45,7.8,8.35]],[3.55,[2.9,3.3,3.7,4.05,4.45,4.82,5.15,5.52,5.88,6.22,6.62,6.98,7.22,7.6,8.2]],[3.72,[2.55,3.02,3.42,3.82,4.25,4.68,5.08,5.42,5.75,6.18,6.58,6.92,7.3,7.72,8.45]],[3.9,[2.72,3.1,3.55,3.95,4.35,4.75,5.2,5.58,5.95,6.32,6.7,7.05,7.45,7.85,8.7]],[4.07,[3,3.5,3.9,4.32,4.7,5.1,5.45,5.82,6.2,6.6,7,7.25,7.6,8.2]],[4.25,[2.85,3.35,3.82,4.22,4.65,5.02,5.38,5.75,6.15,6.48,6.82,7.12,7.5,8.1,8.8]],[4.42,[3.4,3.75,4.18,4.55,4.98,5.32,5.72,6.1,6.55,6.98,7.32,7.75,8.35]],[4.6,[3.05,3.62,4.1,4.5,4.9,5.3,5.68,6.05,6.48,6.9,7.25,7.6,8.15,8.9]],[4.78,[3.35,3.85,4.45,4.88,5.25,5.62,6.18,6.6,7.02,7.32,7.72,8.6,9.1]],[4.95,[3.4,4.15,4.65,5.2,5.7,6.15,6.62,7.15,7.5,7.8,8.2]],[5.12,[3.25,3.75,4.22,4.7,5.25,5.72,6.2,6.65,7.05,7.45,7.85,8.55]],[5.3,[3.6,4.2,4.72,5.35,5.8,6.3,6.72,7.1,7.5,8.1,8.7]],[5.48,[3.2,4.05,4.7,5.18,5.72,6.25,6.75,7.15,7.55,8.05]],[5.65,[3.75,4.68,5.15,5.72,6.3,6.7,7.1,7.42,7.85,8.4]],[5.85,[3.2,4.05,4.72,5.2,6.1,6.6,7.05,7.4,7.65,8.25,8.85]],[6.02,[3.8,4.7,5.35,6.2,6.62,7,7.3,7.7,8.1]],[6.2,[2.7,4.3,5.1,5.5,6.1,6.72,7.12,7.5,7.9,8.5]],[6.4,[3.3,4.4,5.2,6,6.65,7.05,7.4,7.82,8.2]],[6.6,[3.7,4.15,5.3,5.9,6.3,6.75,7.2,7.55,8.05,8.6]],[6.8,[4.05,5.15,6,6.6,7,7.4,7.7,8.4]],[7,[3.5,4.55,5.7,6.15,6.75,7.2,7.6,8.3,8.75]],[7.25,[4.8,5.65,6.35,6.9,7.45,8.1]],[7.5,[3.8,5,6.05,6.95,7.55,8.4]],[7.75,[6.1,6.7,7.4,7.9]],[8,[4.6,5.4,6.9,7.45,8.1]],[8.3,[5.9,6.95,7.5]],[8.6,[5.9,7.1,8.65]]];

/* ---------- panel F coverage (even genomic bins) ---------- */
const heapCov=[0,2,4,5,6,8,20,24,20,17,15,13,10,7,4,1,0,3,7,12,20,45,234,228,90,40,6,12,13,16,13,9,8,10,13,13,11,11,12,9,6,7,6,5,7,8,7,8,7,9,10,12,14,12,9,7,6,4,3,2,3,3,2,2,3,5,8,11,14,12,11,8,8,1,0,0,0,0,0];
const sapCov=[4,4,6,6,6,18,8,8,30,200,120,30,18,18,30,20,44,30,14,8,8,22,26,14,10,8,7,7,3,3,3,16,32,20,12,10,3,3,3,3,3,20,20,20,10,3,3,3,3,3,3,3,3,3,3,3,3,3,3,3,3,3,3,3,3,3,3,3,3,3,3,3,3,10,6,3,3,3];
const inputCov=[2,5,6,12,8,3,0,0,0,0,0,0,0,2,3,3,2,8,13,0,0,0,0,0,0,5,8,4,5,6,6,4,3,0,0,0,0,0,0,0,0,0,0,6,7,0,8,5,0];

/* ---------- panel I coverage (even genomic bins) ---------- */
const adcyPullDown=[0,0,0,0,1,8,3,10,6,6,6,10,1,4,8,38,12,10,5,3,4,12,6,6,4,5,6,7,8,2,5,5,5,4,2,6,6,8,6,8,30,100,120,20,3,12,14,2,1,1,2,8,5,6,10,8,1,0,0,1,1,1,3,4,2,1,4,3,1,2,6,1,7,2,3,1,6,2,1,5,3,3,6,12,8,1,8,2,2,3,2,2,1,4,3,2,8,4,1,2,0,0,0,0,0];
const adcyInput=[0,0,0,1,2,5,6,2,1,1,10,2,1,4,1,1,1,1,1,1,1,4,1,2,7,3,1,1,1,1,5,1,5,1,1,1,1,1,1,1,1,1,1,1,1,1,1,7,1,1,6,1,10,1,1,1,1,1,3,14,2,1,5,1,1,5,1,1,1,1,2,6,1,1,1,1,1,1,1,1,1,1,1,1,1,1,1,1,1,1,1,1,1,1,1,1,1,1,1,1,0,0,0,0,0];
const adcyMycIp=[1,1,1,2,3,4,5,4,5,5,5,6,5,6,6,7,6,5,5,4,3,4,5,4,3,4,4,4,3,5,5,5,5,4,4,3,4,6,8,12,22,45,58,105,70,40,28,20,14,12,9,8,6,3,2,2,2,2,3,4,4,3,3,3,3,6,12,12,18,8,4,3,3,3,3,3,6,7,5,6,5,5,4,6,3,8,10,15,18,22,30,55,78,30,22,25,55,20,14,40,0,0,0,0,0];
const adcyMycInput=[0,0,0,1,1,1,1,1,1,1,1,1,1,1,1,1,1,1,1,1,1,1,1,1,1,1,1,1,1,1,1,1,1,1,1,1,1,2,2,3,6,14,18,25,14,8,6,5,2,2,1,1,1,1,1,1,1,1,1,1,1,1,1,1,1,1,3,12,16,14,8,5,2,2,2,1,1,3,3,2,2,2,1,1,2,3,4,5,5,7,10,18,20,8,5,12,16,6,2,8,0,0,0,0,0];
const adcyAgoIp=[0,0,0,1,1,2,3,3,1,1,1,1,1,1,1,4,2,1,1,1,1,1,1,1,1,1,1,1,1,1,3,3,2,3,5,3,3,5,8,12,22,50,58,155,90,32,28,24,12,28,8,5,1,1,1,1,1,1,1,1,2,1,1,1,1,1,3,4,4,12,4,2,3,4,2,2,3,6,5,5,3,3,4,3,4,8,12,16,24,30,34,80,105,32,34,30,62,22,15,65,0,0,0,0,0];
const adcyAgoInput=[0,0,0,1,2,2,2,2,2,2,2,2,2,2,3,3,2,2,2,2,2,1,1,2,2,2,2,2,1,1,1,2,2,1,1,1,2,2,2,2,4,14,16,26,14,10,9,9,6,6,2,1,1,1,1,1,1,1,1,1,2,1,1,1,1,2,8,14,12,6,2,2,3,3,2,2,2,2,3,3,2,2,2,3,3,3,4,5,5,8,14,10,8,5,6,10,6,4,4,12,0,0,0,0,0];

/* ---------- panel J coverage (even genomic bins) ---------- */
const mbpPullDown=[1,1,1,1,2,2,2,2,2,2,2,2,2,3,3,3,4,4,3,3,3,3,3,3,3,3,2,3,3,3,5,5,8,7,7,4,3,3,3,3,4,12,10,8,5,3,6,8,6,3,3,3,7,7,7,7,4,4,6,8,8,5,7,7,7,3,3,4,8,8,6,4,3,3,3,3,3,3,4,4,3,3,3,3,9,9,6,3,2,1];
const mbpInput=[0,2,6,10,12,12,8,1,1,1,1,8,8,2,1,1,1,2,4,4,1,1,1,1,1,1,1,18,16,1,1,1,1,1,1,1,4,1,1,4,4,2,4,8,10,12,8,1,1,1,14,14,10,10,8,3,1,1,1,1,1,1,10,6,2,1,1,1,1,1,1,1,1,1,1,1,1,6,6,6,1,1,1,1,1,1,1,1,1,1];
const mbpMycIp=[0,10,18,25,30,35,40,48,65,85,95,90,80,70,48,85,105,108,100,85,75,65,55,50,40,30,28,28,35,38,40,40,40,38,35,30,28,22,14,12,10,8,7,5,3,3,3,3,8,12,14,15,15,14,14,12,8,8,20,26,26,28,30,28,28,30,45,105,118,110,105,90,75,65,40,30,25,25,25,28,30,32,28,22,20,12,3,0,0,0];
const mbpMycInput=[2,3,3,3,3,3,3,8,25,35,40,40,38,35,48,65,70,70,62,55,50,45,38,30,22,15,15,15,25,30,30,30,30,25,20,18,12,8,6,4,4,3,3,2,1,2,3,3,4,5,5,5,4,3,3,4,4,5,5,5,5,6,7,15,35,60,65,62,55,40,35,30,20,15,15,15,14,14,14,13,12,12,12,12,12,10,8,3,1,0];
const mbpAgoIp=[0,8,15,18,20,22,30,50,85,110,120,120,100,60,35,95,120,125,125,100,45,40,42,42,40,22,15,8,25,45,55,55,50,42,30,22,15,12,9,9,9,8,8,5,3,3,5,7,10,12,12,12,12,10,8,6,8,15,28,35,35,35,35,30,12,20,45,130,158,150,145,110,55,40,40,32,25,20,18,20,20,22,25,22,18,8,3,0,0,0];
const mbpAgoInput=[0,5,6,6,6,6,6,8,25,32,38,38,32,18,38,55,65,68,60,48,30,25,28,28,22,8,5,8,22,25,25,25,25,20,12,10,6,4,4,7,7,4,3,3,2,2,2,2,3,8,10,8,6,4,3,3,5,8,9,8,6,5,7,15,35,48,50,42,38,35,15,18,18,16,14,12,14,15,15,14,12,10,8,4,1,0,0,0,0,0];

/* ---------- helpers ---------- */
const fig=document.getElementById('fig');
const NS=fig.namespaceURI;
const categoryColors={"3' UTR":'#1f72b8',"5' UTR":'#b5dcb5',"CDS":'#1e947c',"Intergenic":'#58595b',"Intron":'#808285',"ncRNA":'#a7a9ac'};
function mk(tag,parent,attrs,txt){
  const e=document.createElementNS(NS,tag);
  for(const k in attrs)e.setAttribute(k,attrs[k]);
  if(txt!=null)e.textContent=txt;
  parent.appendChild(e);
  return e;
}
function $(id){return document.getElementById(id);}

function drawStack(parent,x,w,top,h,shares,prefix){
  let y=top;
  shares.forEach(function(s,i){
    const sh=s/100*h;
    const r=mk('rect',parent,{x:x,y:y,width:w,height:sh,fill:categoryColors[stackCategories[i]]});
    
    
    y+=sh;
  });
  const box=mk('rect',parent,{x:x,y:top,width:w,height:h,fill:'none',stroke:'#111','stroke-width':3});
  
  
}
function drawLegend(parent,sx,sw,firstY,sh,step,tx,fs){
  legendLabels.forEach(function(l,i){
    const r=mk('rect',parent,{x:sx,y:firstY+i*step,width:sw,height:sh,fill:categoryColors[l]});
    
    
    const t=mk('text',parent,{x:tx,y:firstY+sh+i*step,'font-size':fs},l);
    
    
  });
}
function powLabel(parent,x,y,base,exp,fs,efs){
  const t=mk('text',parent,{x:x,y:y,'font-size':fs},base);
  
  
  const s=mk('tspan',t,{dy:-fs*0.36,'font-size':efs},exp);
  
  
  return t;
}
function tick(parent,x1,y1,x2,y2){
  const l=mk('line',parent,{x1:x1,y1:y1,x2:x2,y2:y2,stroke:'#111','stroke-width':3});
  
  
}
function frame(parent,x,y,w,h){
  const r=mk('rect',parent,{x:x,y:y,width:w,height:h,fill:'none',stroke:'#111','stroke-width':3});
  
  
}
function ribbon(parent,pts,name){
  const p=mk('polygon',parent,{points:pts.join(' '),fill:'#e5e5e5',stroke:'#cfcfcf','stroke-width':2});
  
  
}
function trend(parent,xs,ys,fx,fy){
  const p=mk('polyline',parent,{points:xs.map(function(v,i){return fx(v)+','+fy(ys[i]);}).join(' '),fill:'none',stroke:'#1f8ee0','stroke-width':3.5});
  
  
}
function dots(parent,pts,fx,fy,r){
  pts.forEach(function(q){
    const c=mk('circle',parent,{cx:fx(q[0]),cy:fy(q[1]),r:r,fill:'#000'});
    
    
  });
}
function columnDots(parent,cols,fx,fy,r){
  cols.forEach(function(col){
    col[1].forEach(function(v){
      const c=mk('circle',parent,{cx:fx(col[0]),cy:fy(v),r:r,fill:'#000'});
      
      
    });
  });
}
function track(parent,values,x0,binW,base,k,color,xEnd,name,withBase){
  let pts=[x0+','+base];
  values.forEach(function(v,i){pts.push((x0+i*binW)+','+(base-v*k));});
  pts.push((x0+(values.length-1)*binW)+','+base);
  const p=mk('polygon',parent,{points:pts.join(' '),fill:color});
  
  
  if(withBase){
    const l=mk('line',parent,{x1:x0,y1:base,x2:xEnd,y2:base,stroke:color,'stroke-width':2});
    
    
  }
}

/* ---------- stacked bars ---------- */
drawStack($('barB'),889,117,110,535,mescShares,'mesc-bar');
drawStack($('barH1'),1309,116,1663,536,clipShares,'clip-bar');
drawStack($('barH2'),1619,115,1660.5,534.5,sapShares,'sap-bar');
drawLegend($('legB'),1042,47,205,24,58,1103,47);
drawLegend($('legH'),1837,47,1766,24,58.5,1897,46);

/* ---------- panel C ---------- */
const cX=function(v){return 1692.5+(v-1.477)*300.5;};
const cY=function(v){return 577-(v-2)*115.75;};
(function(){
  const g=$('plotC');
  const up=cRibbonUpperX.map(function(v,i){return cX(v)+','+cY(cRibbonUpperY[i]);});
  const lo=cRibbonLowerX.map(function(v,i){return cX(v)+','+cY(cRibbonLowerY[i]);});
  ribbon(g,up.concat(lo),'confidence-ribbon-c');
  frame(g,1573,114,462,463);
  cYTicks.forEach(function(v){
    tick(g,1560,cY(v),1573,cY(v));
    powLabel(g,1488,cY(v)+9,'10',String(v),45,28);
  });
  cXTicks.forEach(function(v,i){
    tick(g,cX(v),577,cX(v),589);
    powLabel(g,cX(v)-59,632,cXTickLabels[i],cXTickExps[i],45,28);
  });
  tick(g,2035,577,2035,589);
  trend(g,cTrendX,cTrendY,cX,cY);
  dots(g,cPoints,cX,cY,9.5);
})();

/* ---------- panel D ---------- */
const dX=function(v){return 248+(v+1)*76.6;};
const dY=function(v){return 1288-(v+2)*57.4;};
(function(){
  const g=$('plotD');
  ribbon(g,dRibbonX.map(function(v,i){return dX(v)+','+dY(dRibbonY[i]);}),'confidence-ribbon-d');
  const v=mk('line',g,{x1:dX(-0.3),y1:dY(2.45),x2:dX(-0.3),y2:dY(-2),stroke:'#111','stroke-width':3});
  
  
  frame(g,248,829,460,459);
  dYTicks.forEach(function(t){
    tick(g,231,dY(t),248,dY(t));
    powLabel(g,t<0?142:146,dY(t)+16,'10',String(t),46,28);
  });
  dXTicks.forEach(function(t){
    tick(g,dX(t),1288,dX(t),1307);
    powLabel(g,dX(t)+(t<0?-38:-31),1356,'10',String(t),46,28);
  });
  dots(g,dPoints,dX,dY,5);
  columnDots(g,dDenseColumns,dX,dY,5);
  const w=mk('line',g,{x1:dX(-0.06),y1:dY(-2),x2:dX(2.82),y2:dY(2.69),stroke:'#e8e8e8','stroke-width':2.5});
  
  
  trend(g,dTrendX,dTrendY,dX,dY);
})();

/* ---------- panel E ---------- */
const eX=function(v){return 954+v*30.46;};
const eY=function(v){return 1288-v*30.5;};
(function(){
  const g=$('plotE');
  frame(g,954,830.5,457,457.5);
  eYTicks.forEach(function(t){
    tick(g,935,eY(t),954,eY(t));
    const l=mk('text',g,{x:926,y:eY(t)+11,'font-size':45,'text-anchor':'end'},String(t));
    
    
  });
  eXTicks.forEach(function(t){
    tick(g,eX(t),1288,eX(t),1307);
    const l=mk('text',g,{x:eX(t)-(t<10?7:0),y:1353,'font-size':45,'text-anchor':'middle'},String(t));
    
    
  });
  ribbon(g,eRibbonX.map(function(v,i){return eX(v)+','+eY(eRibbonY[i]);}),'confidence-ribbon-e');
  trend(g,eTrendX,eTrendY,eX,eY);
  dots(g,ePoints,eX,eY,3);
  columnDots(g,eDenseColumns,eX,eY,3);
})();

/* ---------- tracks ---------- */
const purpleTrack='#c44fb0',blueTrack='#1b9ad2';
(function(){
  const g=$('tracksF'),bw=10/1.858,k=1/2.306;
  track(g,heapCov,1603,bw,1028,k,purpleTrack,2023,'track-heap-seq',true);
  track(g,sapCov,1676,bw,1149.4,k,blueTrack,2092,'track-sap-seq',true);
  track(g,inputCov,1658,bw,1212,k,blueTrack,1917,'track-input',false);
})();
const adcyBases=[2610,2724,2840,2954,3069,3185];
const mbpBases=[2601,2717.5,2835.5,2952,3070,3187];
const trackNames=['pull-down','input','myc-ip','myc-input','ago2-ip','ago2-input'];
[adcyPullDown,adcyInput,adcyMycIp,adcyMycInput,adcyAgoIp,adcyAgoInput].forEach(function(vals,i){
  track($('tracksI'),vals,367,10/1.275,adcyBases[i],1/1.652,blueTrack,1188,'track-adcy1-'+trackNames[i],true);
});
[mbpPullDown,mbpInput,mbpMycIp,mbpMycInput,mbpAgoIp,mbpAgoInput].forEach(function(vals,i){
  track($('tracksJ'),vals,1597,10/1.546,mbpBases[i],1/1.652,blueTrack,2174,'track-mbp-'+trackNames[i],true);
});
</script>
</body>
</html>
